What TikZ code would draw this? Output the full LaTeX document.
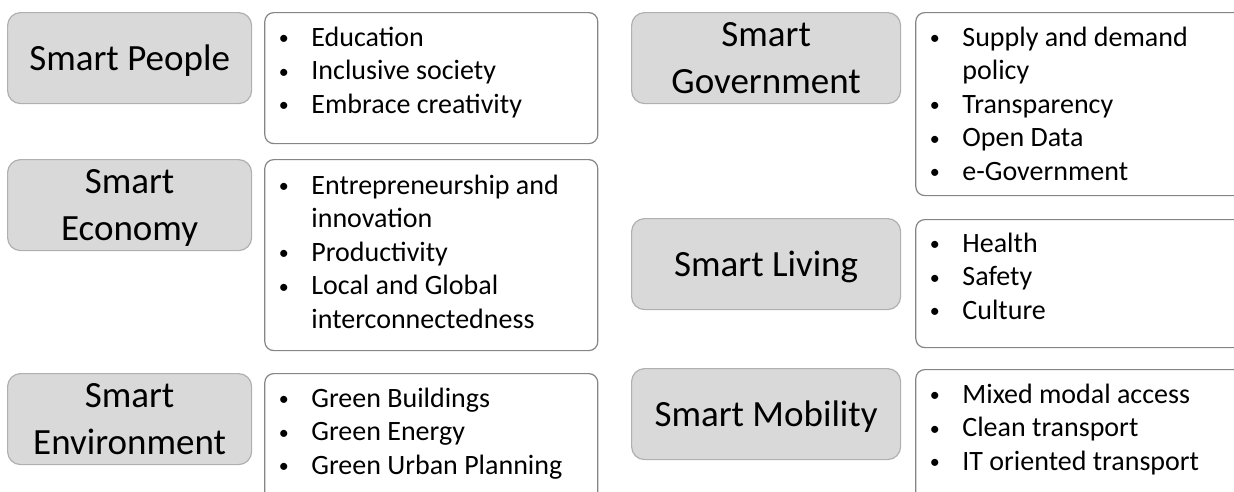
\documentclass[tikz,border=0pt]{standalone}
\usepackage{fontspec}
\setmainfont{Carlito}
\usetikzlibrary{positioning,calc}

\definecolor{areafill}{HTML}{D9D9D9}
\definecolor{arealine}{HTML}{B0B0B0}
\definecolor{listline}{HTML}{858585}

\newcommand{\itm}{\makebox[47pt][l]{\hspace*{14.5pt}\raisebox{1.5pt}{\fontsize{20}{20}\selectfont\textbullet}}}
\newcommand{\cnt}{\hspace*{47pt}}
\newcommand{\blist}[1]{\begin{tabular}[t]{@{}l@{}}#1\end{tabular}}

\begin{document}
\begin{tikzpicture}[x=1pt,y=-1pt]
  \useasboundingbox (0,0) rectangle (1234,491);
  \clip (0,0) rectangle (1234,491);
  \begin{scope}[
    every node/.style={
      anchor=north west,
      inner sep=0pt,
    },
    area/.style={
      draw=arealine, fill=areafill, line width=1.2pt,
      rounded corners=13pt, align=center, text depth=0pt,
      font=\fontsize{37}{47}\selectfont, minimum height=91pt,
    },
    leftarea/.style={area, minimum width=244pt},
    rightarea/.style={area, minimum width=269pt},
    listbox/.style={
      draw=listline, fill=white, line width=1.2pt, rounded corners=9pt,
    },
    listtext/.style={
      anchor=base west, font=\fontsize{28}{33.5}\selectfont,
    },
    ]
    % left column
    \node[leftarea] (people)      at (7,12)  {Smart People};
    \node[leftarea] (economy)     at (7,159) {Smart\\Economy};
    \node[leftarea] (environment) at (7,373) {Smart\\Environment};
    % right column
    \node[rightarea] (government) at (631,12)  {Smart\\Government};
    \node[rightarea] (living)     at (631,218) {Smart Living};
    \node[rightarea] (mobility)   at (631,368) {Smart Mobility};
    % frames of the lists
    \node[listbox, minimum width=333pt, minimum height=131pt]
      (people-box) at ($(people.north east)+(12,0)$) {};
    \node[listbox, minimum width=333pt, minimum height=191pt]
      (economy-box) at ($(economy.north east)+(12,0)$) {};
    \node[listbox, minimum width=333pt, minimum height=140pt]
      (environment-box) at ($(environment.north east)+(12,0)$) {};
    \node[listbox, minimum width=340pt, minimum height=183pt]
      (government-box) at ($(government.north east)+(14,0)$) {};
    \node[listbox, minimum width=340pt, minimum height=128pt]
      (living-box) at ($(living.north east)+(14,1)$) {};
    \node[listbox, minimum width=340pt, minimum height=140pt]
      (mobility-box) at ($(mobility.north east)+(14,1)$) {};
    % the lists
    \node[listtext] (people-list) at ($(people-box.north west)+(0,34)$)
      {\blist{\itm Education\\ \itm Inclusive society\\ \itm Embrace creativity}};
    \node[listtext] (economy-list) at ($(economy-box.north west)+(0,35)$)
      {\blist{\itm Entrepreneurship and\\ \cnt innovation\\ \itm Productivity\\
        \itm Local and Global\\ \cnt interconnectedness}};
    \node[listtext] (environment-list) at ($(environment-box.north west)+(0,34)$)
      {\blist{\itm Green Buildings\\ \itm Green Energy\\ \itm Green Urban Planning}};
    \node[listtext] (government-list) at ($(government-box.north west)+(0,34)$)
      {\blist{\itm Supply and demand\\ \cnt policy\\ \itm Transparency\\
        \itm Open Data\\ \itm e-Government}};
    \node[listtext] (living-list) at ($(living-box.north west)+(0,33)$)
      {\blist{\itm Health\\ \itm Safety\\ \itm Culture}};
    \node[listtext] (mobility-list) at ($(mobility-box.north west)+(0,34)$)
      {\blist{\itm Mixed modal access\\ \itm Clean transport\\ \itm IT oriented transport}};
  \end{scope}
\end{tikzpicture}
\end{document}
